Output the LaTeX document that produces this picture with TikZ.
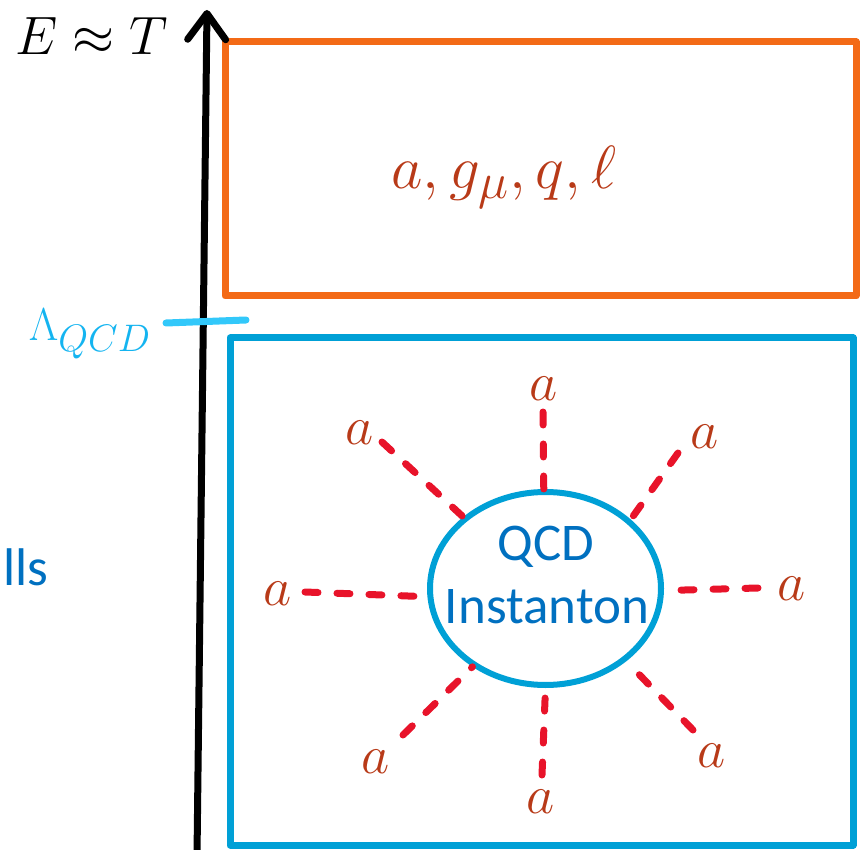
\documentclass[tikz,border=0pt]{standalone}
\usepackage{fontspec}
\newfontfamily\carlito{Carlito}
\usetikzlibrary{arrows.meta,shapes.geometric}
\definecolor{boxorange}{RGB}{243,106,22}
\definecolor{boxblue}{RGB}{0,160,214}
\definecolor{lamcyan}{RGB}{20,180,240}
\definecolor{tickcyan}{RGB}{50,200,250}
\definecolor{txtblue}{RGB}{0,112,192}
\definecolor{mathbrown}{RGB}{184,58,24}
\definecolor{dashred}{RGB}{232,19,42}
\tikzset{
  boxline/.style={line width=7pt, line join=round},
  mathlbl/.style={text=mathbrown, inner sep=0pt, anchor=base, font=\Huge, scale=2.2},
  bigmath/.style={text=mathbrown, inner sep=0pt, anchor=base, font=\Huge, scale=2.45},
  sanslbl/.style={text=txtblue, inner sep=0pt, anchor=base, font=\carlito\fontsize{53}{63}\selectfont},
  axion/.style={draw=dashred, line width=7pt, line cap=round, dash pattern=on 13pt off 19pt},
}
\begin{document}
\begin{tikzpicture}[x=1pt,y=-1pt]
\useasboundingbox (0,0) rectangle (860,850);
% boxes
\draw[boxline, draw=boxorange] (225,42) rectangle (856,296);
\draw[boxline, draw=boxblue] (230,338) rectangle (853,845);
% energy axis
\coordinate (axb) at (197,856);
\coordinate (axt) at (207,10);
\draw[line width=7pt, -{Straight Barb[length=26pt,width=38pt,round]}] (axb) -- (axt);
\node[text=black, inner sep=0pt, anchor=base, font=\Huge, scale=2.17] (E) at (92,55) {$E \approx T$};
% Lambda QCD tick
\coordinate (lq1) at (166,323);
\coordinate (lq2) at (246,320);
\draw[draw=tickcyan, line width=7pt, line cap=round] (lq1) -- (lq2);
\node[text=lamcyan, inner sep=0pt, anchor=base, font=\Huge, scale=1.85] (lam) at (90,341) {$\Lambda_{QCD}$};
% upper box content
\node[bigmath] (fields) at (504,189) {$a,g_\mu,q,\ell$};
% left cut text
\node[sanslbl, anchor=base west] (walls) at (3,585) {lls};
% instanton
\node[draw=boxblue, line width=6pt, ellipse, minimum width=231pt, minimum height=193pt, inner sep=0pt] (ell) at (545.5,588.5) {};
\node[sanslbl] (qcd) at (546,560) {QCD};
\node[sanslbl] (inst) at (547,623) {Instanton};
% outer ends
\coordinate (o1) at (543,412);
\coordinate (o2) at (382,442);
\coordinate (o3) at (678,453);
\coordinate (o4) at (305,592);
\coordinate (o5) at (758,588);
\coordinate (o6) at (403,735);
\coordinate (o7) at (542,775);
\coordinate (o8) at (693,730);
\draw[axion] (o1) -- (ell.91);
\draw[axion] (o2) -- (ell.139);
\draw[axion] (o3) -- (ell.39);
\draw[axion] (o4) -- (ell.184);
\draw[axion] (o5) -- (ell.359);
\draw[axion] (o6) -- (ell.227);
\draw[axion] (o7) -- (ell.270);
\draw[axion] (o8) -- (ell.318);
% axion labels
\node[mathlbl] (a1) at (544,400) {$a$};
\node[mathlbl] (a2) at (360,445) {$a$};
\node[mathlbl] (a3) at (705,448) {$a$};
\node[mathlbl] (a4) at (278,605) {$a$};
\node[mathlbl] (a5) at (792,600) {$a$};
\node[mathlbl] (a6) at (376,773) {$a$};
\node[mathlbl] (a7) at (541,813) {$a$};
\node[mathlbl] (a8) at (712,767) {$a$};
\end{tikzpicture}
\end{document}
